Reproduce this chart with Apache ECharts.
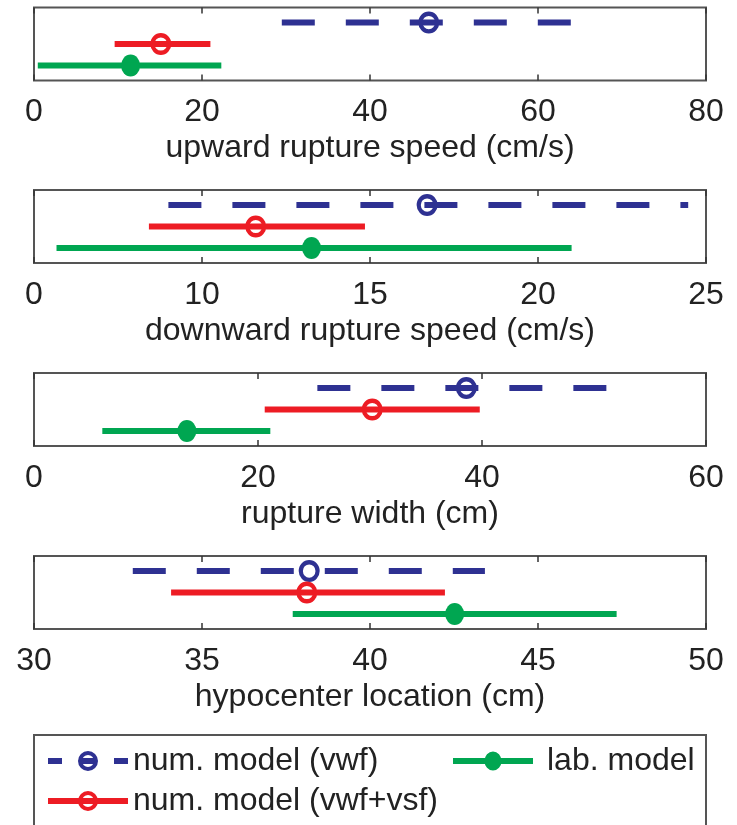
<!DOCTYPE html>
<html>
<head>
<meta charset="utf-8">
<script src="https://cdn.jsdelivr.net/npm/echarts@6/dist/echarts.min.js"></script>
<style>
html,body{margin:0;padding:0;background:#fff;}
#c{width:737px;height:825px;}
</style>
</head>
<body>
<div id="c"></div>
<script>
// ---- data ----
const panelTitles = ['upward rupture speed (cm/s)', 'downward rupture speed (cm/s)', 'rupture width (cm)', 'hypocenter location (cm)'];
const tickLabels1 = ['0', '20', '40', '60', '80'];
const tickLabels2 = ['0', '10', '15', '20', '25'];
const tickLabels3 = ['0', '20', '40', '60'];
const tickLabels4 = ['30', '35', '40', '45', '50'];
const axisMin = [0, 5, 0, 30];
const axisMax = [80, 25, 60, 50];
const axisStep = [20, 5, 20, 5];

const modelNames = ['num. model (vwf)', 'num. model (vwf+vsf)', 'lab. model'];
// per panel: [upward, downward, width, hypocenter]
const vwfLow  = [29.5, 9.0, 25.3, 32.94];
const vwfMid  = [47.0, 16.7, 38.6, 38.19];
const vwfHigh = [64.1, 24.47, 51.8, 43.42];
const vsfLow  = [9.6, 8.42, 20.6, 34.08];
const vsfMid  = [15.1, 11.6, 30.2, 38.12];
const vsfHigh = [21.0, 14.85, 39.8, 42.23];
const labLow  = [0.45, 5.67, 6.1, 37.7];
const labMid  = [11.5, 13.26, 13.65, 42.52];
const labHigh = [22.3, 21.0, 21.1, 47.34];

// ---- styling / layout ----
const tickLabelSets = [tickLabels1, tickLabels2, tickLabels3, tickLabels4];
const colors = ['#2e3192', '#ed1c24', '#00a651'];
const FONT = '"Liberation Sans", Arial, Helvetica, sans-serif';
const TXT = '#222';
const FS = 32;
const gridLeft = 34, gridWidth = 672, gridHeight = 73;
const gridTops = [7.5, 190, 373, 556];
const dashPattern = [33, 31];
const RING = 'path://M10,0 A10,10 0 1,1 -10,0 A10,10 0 1,1 10,0 Z M6.0,0 A6.0,6.0 0 1,0 -6.0,0 A6.0,6.0 0 1,0 6.0,0 Z';

// legend sample glyphs: line segment(s) + marker, like the original legend
const ringAt = 'M50,12 A10,10 0 1,1 30,12 A10,10 0 1,1 50,12 Z M46,12 A6,6 0 1,0 34,12 A6,6 0 1,0 46,12 Z';
const legendIcons = [
  'path://M0,9 L14,9 L14,15 L0,15 Z M66,9 L80,9 L80,15 L66,15 Z M33,9 L47,9 L47,15 L33,15 Z ' + ringAt,
  'path://M0,9 L80,9 L80,15 L0,15 Z ' + ringAt,
  'path://M0,9 L80,9 L80,15 L0,15 Z M48.5,12 A8.5,9.5 0 1,1 31.5,12 A8.5,9.5 0 1,1 48.5,12 Z M40,2 L40,2.01 Z M40,22 L40,21.99 Z M89,12 L89,12.01 Z'
];
const legendIconWidths = [80, 80, 89];

const lows = [vwfLow, vsfLow, labLow];
const mids = [vwfMid, vsfMid, labMid];
const highs = [vwfHigh, vsfHigh, labHigh];

const grid = [], xAxis = [], yAxis = [], series = [];
for (let p = 0; p < 4; p++) {
  grid.push({left: gridLeft, top: gridTops[p], width: gridWidth, height: gridHeight,
    show: true, borderColor: '#555', borderWidth: 2, backgroundColor: 'transparent'});
  const labels = tickLabelSets[p];
  const mn = axisMin[p], st = axisStep[p];
  const common = {
    gridIndex: p, type: 'value', min: axisMin[p], max: axisMax[p], interval: axisStep[p],
    axisLine: {show: false}, splitLine: {show: false},
    axisTick: {show: true, inside: true, length: 6, lineStyle: {color: '#333', width: 1.5}}
  };
  xAxis.push(Object.assign({}, common, {
    position: 'bottom',
    axisLabel: {show: true, margin: 16, fontSize: FS, color: TXT, fontFamily: FONT,
      showMinLabel: true, showMaxLabel: true,
      formatter: v => labels[Math.round((v - mn) / st)]},
    name: panelTitles[p], nameLocation: 'middle', nameGap: 52,
    nameTextStyle: {fontSize: FS, color: TXT, fontFamily: FONT}
  }));
  xAxis.push(Object.assign({}, common, {position: 'top', axisLabel: {show: false}}));
  yAxis.push({gridIndex: p, type: 'value', min: 0.3, max: 3.7, inverse: true, show: false});

  for (let k = 0; k < 3; k++) {
    const row = k + 1;
    const filled = k === 2;
    // range line (drawn above the marker so it passes through open circles)
    series.push({
      name: modelNames[k], type: 'line', xAxisIndex: 2 * p, yAxisIndex: p,
      silent: true, animation: false, clip: false, z: 3,
      symbol: 'none',
      data: [[lows[k][p], row], [highs[k][p], row]],
      lineStyle: {color: colors[k], width: 6, type: k === 0 ? dashPattern : 'solid', cap: 'butt'},
      itemStyle: {color: colors[k]}
    });
    // central estimate marker
    series.push({
      name: modelNames[k], type: 'scatter', xAxisIndex: 2 * p, yAxisIndex: p,
      silent: true, animation: false, clip: false, z: 2,
      symbol: filled ? 'circle' : RING,
      symbolSize: filled ? [19, 22] : [21, 22],
      data: [[mids[k][p], row]],
      itemStyle: {color: colors[k], borderWidth: 0, opacity: 1}
    });
  }
}

function legendItem(k) {
  return {name: modelNames[k], icon: legendIcons[k], itemStyle: {color: colors[k], borderWidth: 0}};
}
const legendText = {fontSize: FS, color: TXT, fontFamily: FONT, lineHeight: 32};

const option = {
  backgroundColor: '#fff',
  animation: false,
  grid, xAxis, yAxis, series,
  legend: [
    {left: 48, top: 745, orient: 'vertical', itemWidth: legendIconWidths[0], itemHeight: 24, itemGap: 8, padding: 0,
      symbolKeepAspect: true, selectedMode: false, textStyle: legendText, data: [legendItem(0), legendItem(1)]},
    {left: 453, top: 745, orient: 'vertical', itemWidth: legendIconWidths[2], itemHeight: 24, itemGap: 8, padding: 0,
      symbolKeepAspect: true, selectedMode: false, textStyle: legendText, data: [legendItem(2)]}
  ],
  graphic: [
    {type: 'rect', shape: {x: 34, y: 735, width: 672, height: 120},
      style: {fill: 'none', stroke: '#555', lineWidth: 2}, silent: true, z: 0}
  ]
};

const chart = echarts.init(document.getElementById('c'), null, {renderer: 'canvas'});
chart.setOption(option);
</script>
</body>
</html>
